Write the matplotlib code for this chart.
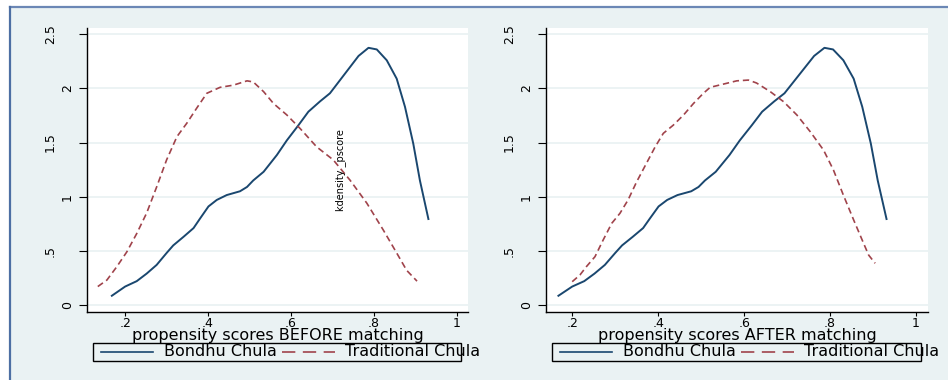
import matplotlib.pyplot as plt
from matplotlib.lines import Line2D
from matplotlib.patches import Rectangle
from matplotlib.transforms import ScaledTranslation

W, H = 948, 380

# kernel density of the propensity score, Bondhu Chula (same in both panels)
bondhu_x = [0.166, 0.200, 0.228, 0.252, 0.276, 0.300, 0.316, 0.341, 0.365, 0.381,
            0.401, 0.421, 0.445, 0.477, 0.494, 0.509, 0.534, 0.566, 0.590, 0.618,
            0.642, 0.670, 0.694, 0.719, 0.743, 0.763, 0.787, 0.807, 0.831, 0.855,
            0.875, 0.895, 0.911, 0.932]
bondhu_y = [0.08, 0.17, 0.22, 0.29, 0.37, 0.48, 0.55, 0.63, 0.71, 0.80,
            0.91, 0.97, 1.015, 1.05, 1.09, 1.15, 1.23, 1.385, 1.52, 1.66,
            1.785, 1.88, 1.955, 2.08, 2.20, 2.30, 2.375, 2.36, 2.26, 2.09,
            1.83, 1.49, 1.15, 0.785]

# Traditional Chula before matching
trad_before_x = [0.134, 0.156, 0.180, 0.204, 0.228, 0.252, 0.276, 0.300, 0.325, 0.349,
                 0.373, 0.397, 0.429, 0.461, 0.494, 0.509, 0.534, 0.558, 0.590, 0.622,
                 0.662, 0.702, 0.743, 0.783, 0.823, 0.855, 0.879, 0.904]
trad_before_y = [0.17, 0.23, 0.354, 0.49, 0.66, 0.85, 1.09, 1.34, 1.555, 1.68,
                 1.82, 1.955, 2.01, 2.03, 2.07, 2.06, 1.97, 1.86, 1.755, 1.63,
                 1.46, 1.34, 1.15, 0.94, 0.69, 0.48, 0.32, 0.22]

# Traditional Chula after matching
trad_after_x = [0.200, 0.218, 0.233, 0.253, 0.272, 0.292, 0.311, 0.330, 0.350, 0.373,
                0.393, 0.412, 0.435, 0.459, 0.482, 0.505, 0.521, 0.552, 0.583, 0.610,
                0.629, 0.661, 0.692, 0.723, 0.754, 0.785, 0.808, 0.831, 0.855, 0.878,
                0.890, 0.905]
trad_after_y = [0.215, 0.277, 0.354, 0.446, 0.60, 0.754, 0.846, 0.97, 1.138, 1.31,
                1.46, 1.585, 1.66, 1.754, 1.86, 1.954, 2.01, 2.04, 2.07, 2.077,
                2.05, 1.97, 1.877, 1.754, 1.60, 1.43, 1.246, 1.015, 0.785, 0.57,
                0.46, 0.385]

x_labels = ['propensity scores BEFORE matching', 'propensity scores AFTER matching']
legend_labels = ['Bondhu Chula', 'Traditional Chula']
x_ticks = [0.2, 0.4, 0.6, 0.8, 1.0]
x_tick_labels = ['.2', '.4', '.6', '.8', '1']
y_ticks = [0, 0.5, 1, 1.5, 2, 2.5]
y_tick_labels = ['0', '.5', '1', '1.5', '2', '2.5']
note_text = 'kdensity _pscore'

BLUE = '#1a476f'
RED = '#a0434b'
BG = '#eaf2f3'


def fx(px):
    return px / W


def fy(py):
    return 1 - py / H


fig = plt.figure(figsize=(W / 100, H / 100), dpi=100)
fig.patch.set_facecolor('white')
fig.patches.append(Rectangle((fx(10), 0), 1 - fx(10), fy(7), transform=fig.transFigure,
                             facecolor=BG, edgecolor='none', zorder=-2))
fig.lines.append(Line2D([fx(10), 1], [fy(7), fy(7)], transform=fig.transFigure,
                        color='#6b87b5', lw=1.6, zorder=-1))
fig.lines.append(Line2D([fx(10), fx(10)], [0, fy(7)], transform=fig.transFigure,
                        color='#4d6fa3', lw=1.6, zorder=-1))


def panel(left, right, xlim, trad_x, trad_y, xlabel, leg_left, leg_right, note=False):
    ax = fig.add_axes([fx(left), fy(312), (right - left) / W, (312 - 28) / H])
    ax.set_facecolor('white')
    ax.plot(bondhu_x, bondhu_y, color=BLUE, lw=1.4, solid_capstyle='butt')
    red, = ax.plot(trad_x, trad_y, color=RED, lw=1.2)
    red.set_dashes((3.8, 2.3))
    ax.set_xlim(*xlim)
    ax.set_ylim(-0.065, 2.558)
    for s in ('top', 'right'):
        ax.spines[s].set_visible(False)
    for s in ('left', 'bottom'):
        ax.spines[s].set_linewidth(1.0)
        ax.spines[s].set_color('black')
    ax.yaxis.grid(True, color=BG, lw=1.3)
    ax.set_axisbelow(True)
    ax.tick_params(axis='y', direction='out', length=5.5, width=0.8, pad=4)
    ax.tick_params(axis='x', direction='out', length=3, width=0.8, pad=0.3)
    ax.set_xticks(x_ticks)
    ax.set_xticklabels(x_tick_labels, fontsize=9)
    ax.set_yticks(y_ticks)
    ax.set_yticklabels(y_tick_labels, rotation=90, va='center', fontsize=9)
    shift = ScaledTranslation(-0.17, 0, fig.dpi_scale_trans)
    for lbl in ax.get_yticklabels():
        if len(lbl.get_text()) > 1:
            lbl.set_transform(lbl.get_transform() + shift)
    ax.set_xlabel(xlabel, fontsize=11.5)
    ax.xaxis.label.set_va('center')
    ax.xaxis.set_label_coords(0.5, -(335.5 - 312) / (312 - 28))
    if note:
        ax.text(0.719, 1.25, note_text, rotation=90, ha='center', va='center', fontsize=7)

    # legend box (Stata lets the second label run past the frame)
    ly = 351.7
    fig.patches.append(Rectangle((fx(leg_left), fy(360.7)), (leg_right - leg_left) / W, 18 / H,
                                 transform=fig.transFigure, fill=False, ec='black', lw=1.0))
    x0 = leg_left + 8
    fig.lines.append(Line2D([fx(x0), fx(x0 + 52)], [fy(ly), fy(ly)], transform=fig.transFigure,
                            color=BLUE, lw=1.2))
    fig.text(fx(x0 + 63), fy(ly), legend_labels[0], ha='left', va='center', fontsize=11.5)
    dash = Line2D([fx(x0 + 181), fx(x0 + 234)], [fy(ly), fy(ly)], transform=fig.transFigure,
                  color=RED, lw=1.2)
    dash.set_dashes((8, 4.5))
    fig.lines.append(dash)
    fig.text(fx(x0 + 244), fy(ly), legend_labels[1], ha='left', va='center', fontsize=11.5)
    return ax


panel(87, 468, (0.108, 1.027), trad_before_x, trad_before_y, x_labels[0], 92.7, 461, note=True)
panel(546, 928, (0.139, 1.028), trad_after_x, trad_after_y, x_labels[1], 551.7, 921)

fig.savefig('out.png', dpi=100)
